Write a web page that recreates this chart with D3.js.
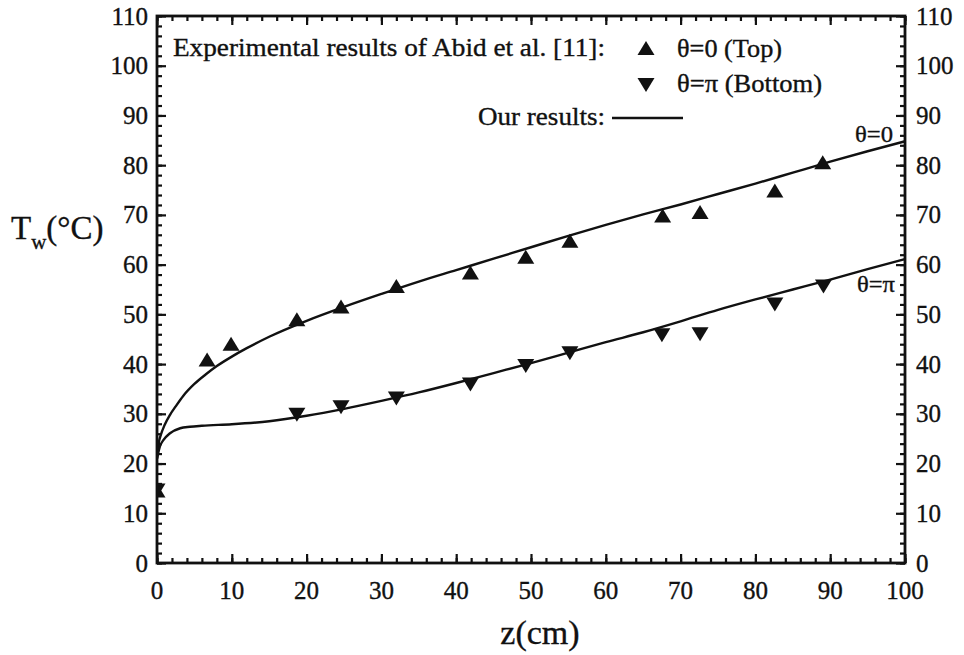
<!DOCTYPE html>
<html>
<head>
<meta charset="utf-8">
<script src="https://cdn.jsdelivr.net/npm/d3@7"></script>
<style>
  html, body { margin: 0; padding: 0; background: #fff; }
  svg text { font-family: "Liberation Serif", "Times New Roman", serif; fill: #111; }
</style>
</head>
<body>
<svg id="chart" width="964" height="655"></svg>
<script>
// ---- data ----
const xTicks = [0, 10, 20, 30, 40, 50, 60, 70, 80, 90, 100];
const yTicks = [0, 10, 20, 30, 40, 50, 60, 70, 80, 90, 100, 110];

// experimental, theta = 0 (top)
const topZ = [0, 6.7, 9.9, 18.7, 24.6, 32.0, 41.9, 49.3, 55.2, 67.6, 72.6, 82.6, 89.0];
const topT = [14.6, 40.9, 44.1, 49.0, 51.6, 55.7, 58.4, 61.6, 64.8, 69.9, 70.6, 74.9, 80.6];

// experimental, theta = pi (bottom)
const botZ = [0, 18.7, 24.6, 32.0, 41.9, 49.3, 55.2, 67.5, 72.6, 82.6, 89.1];
const botT = [14.6, 29.8, 31.3, 33.1, 35.9, 39.6, 42.2, 45.8, 46.0, 52.0, 55.6];

// our results, theta = 0
const lineTopZ = [0, 0.25, 0.5, 1, 1.74, 2.5, 3.5, 5, 6.5, 8, 10, 12, 15, 20, 25, 30, 35, 40, 45, 50, 55, 60, 65, 70, 75, 80, 85, 90, 95, 100];
const lineTopT = [21, 24.3, 25.7, 27.7, 29.8, 31.5, 33.6, 36.0, 37.9, 39.6, 41.5, 43.2, 45.5, 48.7, 51.5, 54.1, 56.6, 58.9, 61.2, 63.5, 65.8, 68.0, 70.1, 72.1, 74.2, 76.3, 78.5, 80.7, 82.8, 84.8];

// our results, theta = pi
const lineBotZ = [0, 0.4, 0.85, 1.74, 3.1, 4.4, 6, 10, 15, 20, 25, 30, 35, 40, 45, 50, 55, 60, 65, 70, 75, 80, 85, 90, 95, 100];
const lineBotT = [21, 23.5, 24.7, 26.1, 27.1, 27.4, 27.6, 27.9, 28.5, 29.6, 31.0, 32.6, 34.3, 36.2, 38.2, 40.2, 42.3, 44.4, 46.4, 48.6, 50.9, 53.0, 55.0, 57.0, 59.1, 61.1];

// ---- layout ----
const FONT = "'Liberation Serif', 'Times New Roman', serif";
const L = 157, R = 905, T = 16, B = 563;
const svg = d3.select("#chart");
const x = d3.scaleLinear().domain([0, 100]).range([L, R]);
const y = d3.scaleLinear().domain([0, 110]).range([B, T]);

const minorX = d3.range(0, 101, 2);
const minorY = d3.range(0, 111, 2);

function addAxis(axis, transform) {
  const g = svg.append("g").attr("transform", transform).call(axis);
  g.selectAll("path.domain").remove();
  g.selectAll("line").attr("stroke", "#111").attr("stroke-width", 2.2);
  g.selectAll("text").remove();
  return g;
}
addAxis(d3.axisBottom(x).tickValues(minorX).tickSize(-5).tickFormat(""), `translate(0,${B})`);
addAxis(d3.axisTop(x).tickValues(minorX).tickSize(-5).tickFormat(""), `translate(0,${T})`);
addAxis(d3.axisLeft(y).tickValues(minorY).tickSize(-5).tickFormat(""), `translate(${L},0)`);
addAxis(d3.axisRight(y).tickValues(minorY).tickSize(-5).tickFormat(""), `translate(${R},0)`);
addAxis(d3.axisBottom(x).tickValues(xTicks).tickSize(-9).tickFormat(""), `translate(0,${B})`);
addAxis(d3.axisTop(x).tickValues(xTicks).tickSize(-9).tickFormat(""), `translate(0,${T})`);
addAxis(d3.axisLeft(y).tickValues(yTicks).tickSize(-9).tickFormat(""), `translate(${L},0)`);
addAxis(d3.axisRight(y).tickValues(yTicks).tickSize(-9).tickFormat(""), `translate(${R},0)`);

svg.append("rect").attr("x", L).attr("y", T).attr("width", R - L).attr("height", B - T)
  .attr("fill", "none").attr("stroke", "#111").attr("stroke-width", 2.8);

function txt(sel) {
  return sel.attr("font-family", FONT).attr("fill", "#111")
    .attr("stroke", "#111").attr("stroke-width", 0.35);
}

const fs = 25;
txt(svg.append("g").selectAll("text").data(xTicks).join("text"))
  .attr("x", d => x(d)).attr("y", B + 36).attr("text-anchor", "middle")
  .attr("font-size", fs).text(d => d);
txt(svg.append("g").selectAll("text").data(yTicks).join("text"))
  .attr("x", L - 9).attr("y", d => y(d) + 8.5).attr("text-anchor", "end")
  .attr("font-size", fs).text(d => d);
txt(svg.append("g").selectAll("text").data(yTicks).join("text"))
  .attr("x", R + 11).attr("y", d => y(d) + 8.5).attr("text-anchor", "start")
  .attr("font-size", fs).text(d => d);

txt(svg.append("text")).attr("x", 540).attr("y", 644).attr("text-anchor", "middle")
  .attr("font-size", 34).text("z(cm)");
const yl = txt(svg.append("text")).attr("x", 11).attr("y", 239).attr("font-size", 33);
yl.append("tspan").text("T");
yl.append("tspan").attr("font-size", 21).attr("dy", 10).text("w");
yl.append("tspan").attr("dy", -10).text("(°C)");

svg.append("clipPath").attr("id", "clip").append("rect")
  .attr("x", L).attr("y", T).attr("width", R - L).attr("height", B - T);
const plot = svg.append("g").attr("clip-path", "url(#clip)");

const line = d3.line().x(d => x(d[0])).y(d => y(d[1])).curve(d3.curveMonotoneX);
plot.append("path").datum(d3.zip(lineTopZ, lineTopT)).attr("d", line)
  .attr("fill", "none").attr("stroke", "#111").attr("stroke-width", 2.4);
plot.append("path").datum(d3.zip(lineBotZ, lineBotT)).attr("d", line)
  .attr("fill", "none").attr("stroke", "#111").attr("stroke-width", 2.4);

const tw = 17, th = 14;
const upTri = `M0,${-th/2}L${tw/2},${th/2}L${-tw/2},${th/2}Z`;
const dnTri = `M0,${th/2}L${tw/2},${-th/2}L${-tw/2},${-th/2}Z`;
plot.append("g").selectAll("path").data(d3.zip(topZ, topT)).join("path")
  .attr("d", upTri).attr("transform", d => `translate(${x(d[0])},${y(d[1])})`).attr("fill", "#111");
plot.append("g").selectAll("path").data(d3.zip(botZ, botT)).join("path")
  .attr("d", dnTri).attr("transform", d => `translate(${x(d[0])},${y(d[1])})`).attr("fill", "#111");

txt(svg.append("text")).attr("x", 893).attr("y", 142).attr("text-anchor", "end")
  .attr("font-size", 24).attr("textLength", 38).attr("lengthAdjust", "spacingAndGlyphs").text("θ=0");
txt(svg.append("text")).attr("x", 895).attr("y", 292).attr("text-anchor", "end")
  .attr("font-size", 24).attr("textLength", 38).attr("lengthAdjust", "spacingAndGlyphs").text("θ=π");

txt(svg.append("text")).attr("x", 173).attr("y", 56).attr("font-size", 25)
  .attr("textLength", 432).attr("lengthAdjust", "spacingAndGlyphs")
  .text("Experimental results of Abid et al. [11]:");
svg.append("path").attr("d", upTri).attr("transform", "translate(646,48)").attr("fill", "#111");
txt(svg.append("text")).attr("x", 677).attr("y", 57).attr("font-size", 25)
  .attr("textLength", 105).attr("lengthAdjust", "spacingAndGlyphs").text("θ=0 (Top)");
svg.append("path").attr("d", dnTri).attr("transform", "translate(646,85)").attr("fill", "#111");
txt(svg.append("text")).attr("x", 677).attr("y", 92).attr("font-size", 25)
  .attr("textLength", 145).attr("lengthAdjust", "spacingAndGlyphs").text("θ=π (Bottom)");
txt(svg.append("text")).attr("x", 478).attr("y", 125).attr("font-size", 25)
  .attr("textLength", 127).attr("lengthAdjust", "spacingAndGlyphs").text("Our results:");
svg.append("line").attr("x1", 612).attr("x2", 683).attr("y1", 118).attr("y2", 118)
  .attr("stroke", "#111").attr("stroke-width", 2.4);
</script>
</body>
</html>
